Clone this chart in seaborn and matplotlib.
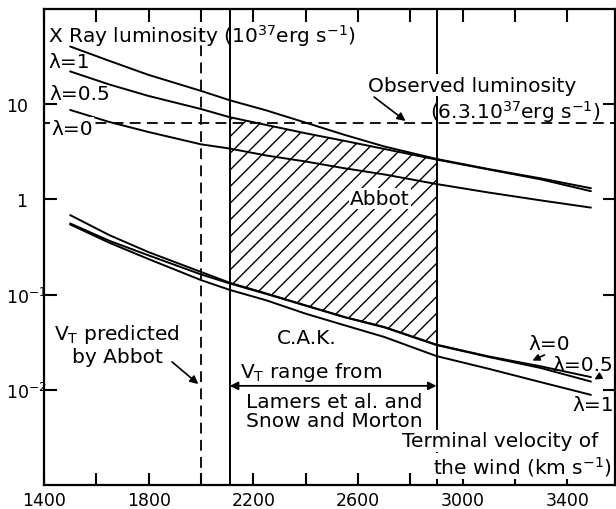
import numpy as np
import pandas as pd
import matplotlib
matplotlib.use("Agg")
import matplotlib.pyplot as plt
import seaborn as sns

# ---------------- data ----------------
velocity = [1500, 1650, 1800, 2000, 2110, 2250, 2400, 2550, 2700, 2900, 3100, 3300, 3490]
abbot_lam1 = [40.4, 28.5, 20.3, 13.8, 11.0, 8.6, 6.4, 4.75, 3.6, 2.66, 2.08, 1.66, 1.31]
abbot_lam05 = [22.1, 16.1, 12.2, 8.9, 7.3, 6.05, 4.95, 4.11, 3.39, 2.62, 2.06, 1.62, 1.22]
abbot_lam0 = [8.7, 6.5, 5.1, 3.79, 3.42, 2.89, 2.5, 2.12, 1.83, 1.45, 1.18, 0.975, 0.82]
cak_lam0 = [0.684, 0.421, 0.279, 0.173, 0.133, 0.1026, 0.077, 0.058, 0.0457, 0.0298, 0.0224, 0.0176, 0.0136]
cak_lam05 = [0.559, 0.367, 0.258, 0.163, 0.131, 0.1015, 0.0765, 0.0577, 0.0453, 0.0295, 0.0221, 0.0169, 0.0122]
cak_lam1 = [0.545, 0.35, 0.236, 0.142, 0.112, 0.087, 0.063, 0.0475, 0.0359, 0.0226, 0.0166, 0.012, 0.00885]

observed_L = 6.3
vt_abbot = 2000
vt_range = [2110, 2900]

x_ticks = list(range(1400, 3401, 200))
x_labels = ["1400", "", "1800", "", "2200", "", "2600", "", "3000", "", "3400"]
y_ticks = [0.01, 0.1, 1, 10]
y_labels = ["10$^{-2}$", "10$^{-1}$", "\u20071", "10"]

curves = {
    "abbot_1": abbot_lam1, "abbot_05": abbot_lam05, "abbot_0": abbot_lam0,
    "cak_0": cak_lam0, "cak_05": cak_lam05, "cak_1": cak_lam1,
}
df = pd.concat([pd.DataFrame({"v": velocity, "L": vals, "curve": name})
                for name, vals in curves.items()], ignore_index=True)

# ---------------- style ----------------
sns.set_style("ticks")
plt.rcParams["font.family"] = ["DejaVu Sans"]
plt.rcParams["hatch.linewidth"] = 1.0
for k in ["text.color", "axes.labelcolor", "xtick.color", "ytick.color",
          "axes.edgecolor"]:
    plt.rcParams[k] = "black"
FS = 14.5
TFS = 12.5

fig = plt.figure(figsize=(6.16, 5.10), dpi=100)
ax = fig.add_axes([44 / 616, 24 / 510, 571 / 616, 476 / 510])
ax.set_yscale("log")

sns.lineplot(data=df, x="v", y="L", hue="curve",
             palette={k: "black" for k in curves}, estimator=None,
             legend=False, lw=1.4, ax=ax, sort=False)

# hatched region
sel = [i for i, v in enumerate(velocity) if vt_range[0] <= v <= vt_range[1]]
ax.fill_between([velocity[i] for i in sel], [cak_lam0[i] for i in sel],
                [abbot_lam05[i] for i in sel], facecolor="none",
                edgecolor="black", hatch="//", lw=0)

# reference lines
ax.axhline(observed_L, color="black", lw=1.3, ls=(0, (6, 3.5)))
ax.axvline(vt_abbot, color="black", lw=1.3, ls=(0, (6, 3.5)))
for vv in vt_range:
    ax.axvline(vv, color="black", lw=1.4)

ax.set_xlim(1400, 3582)
ax.set_ylim(1e-3, 1e2)
ax.minorticks_off()
ax.set_xticks(x_ticks)
ax.set_xticklabels(x_labels)
ax.set_yticks(y_ticks)
ax.set_yticklabels(y_labels)
ax.set_xlabel("")
ax.set_ylabel("")
ax.tick_params(direction="in", length=9, width=1.5, top=True, right=True,
               labelsize=TFS)
ax.tick_params(axis="x", pad=4)
ax.tick_params(axis="y", pad=27)
for lab in ax.get_yticklabels():
    lab.set_horizontalalignment("left")
for s in ax.spines.values():
    s.set_linewidth(1.6)
    s.set_visible(True)

wb = dict(facecolor="white", edgecolor="none", pad=1.0)

ax.text(1415, 53, "X Ray luminosity (10$^{37}$erg s$^{-1}$)", fontsize=FS,
        ha="left", va="center")
ax.text(1415, 28.4, "λ=1", fontsize=FS, ha="left", va="center")
ax.text(1420, 13.1, "λ=0.5", fontsize=FS, ha="left", va="center")
ax.text(1428, 5.6, "λ=0", fontsize=FS, ha="left", va="center", bbox=wb,
        zorder=5)

ax.text(2638, 15.8, "Observed luminosity", fontsize=FS, ha="left",
        va="center", bbox=wb, zorder=5)
ax.text(3525, 8.5, "(6.3.10$^{37}$erg s$^{-1}$)", fontsize=FS, ha="right",
        va="center", zorder=5)
ax.annotate("", xy=(2790, 6.4), xytext=(2653, 12.4),
            arrowprops=dict(arrowstyle="-|>", color="black", lw=1.2,
                            mutation_scale=12))

ax.text(2684, 1.02, "Abbot", fontsize=FS, ha="center", va="center",
        bbox=wb, zorder=5)
ax.text(2405, 0.0352, "C.A.K.", fontsize=FS, ha="center", va="center")

ax.text(1679, 0.0305, "V$_\\mathrm{T}$ predicted\nby Abbot", fontsize=FS,
        ha="center", va="center", linespacing=1.14)
ax.annotate("", xy=(1998, 0.011), xytext=(1881, 0.0205),
            arrowprops=dict(arrowstyle="-|>", color="black", lw=1.2,
                            mutation_scale=12))

ax.text(2150, 0.0155, "V$_\\mathrm{T}$ range from", fontsize=FS, ha="left",
        va="center")
ax.annotate("", xy=(vt_range[0], 0.011), xytext=(vt_range[1], 0.011),
            arrowprops=dict(arrowstyle="<|-|>", color="black", lw=1.3,
                            mutation_scale=12, shrinkA=0, shrinkB=0))
ax.text(2510, 0.006, "Lamers et al. and\nSnow and Morton", fontsize=FS,
        ha="center", va="center", linespacing=0.95)

ax.text(3517, 0.0029, "Terminal velocity of", fontsize=FS, ha="right",
        va="center", bbox=wb, zorder=5)
ax.text(3570, 0.00158, "the wind (km s$^{-1}$)", fontsize=FS, ha="right",
        va="center", bbox=wb, zorder=5)

ax.text(3330, 0.031, "λ=0", fontsize=FS, ha="center", va="center")
ax.annotate("", xy=(3257, 0.0197), xytext=(3322, 0.0239),
            arrowprops=dict(arrowstyle="-|>", color="black", lw=1.2,
                            mutation_scale=10))
ax.text(3575, 0.0183, "λ=0.5", fontsize=FS, ha="right", va="center")
ax.annotate("", xy=(3494, 0.0124), xytext=(3536, 0.0145),
            arrowprops=dict(arrowstyle="-|>", color="black", lw=1.2,
                            mutation_scale=10))
ax.text(3418, 0.0070, "λ=1", fontsize=FS, ha="left", va="center")

fig.savefig("out.png", dpi=100)
